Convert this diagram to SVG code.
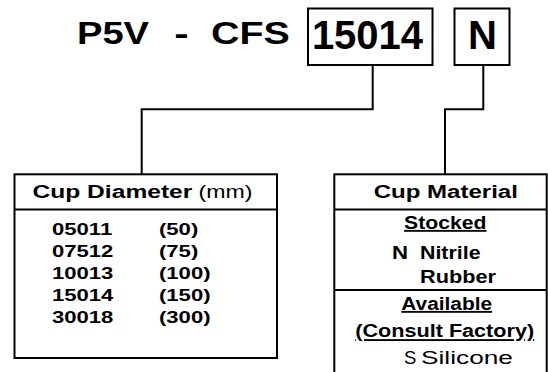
<svg xmlns="http://www.w3.org/2000/svg" width="548" height="372" viewBox="0 0 548 372">
<style>
text{font-family:"Liberation Sans",Arial,Helvetica,sans-serif;fill:#000}
.b{font-weight:bold}
.t{font-size:31px;font-weight:bold}
.k{font-size:40px;font-weight:bold}
.h{font-size:18.5px}
.r{font-size:17px;font-weight:bold}
.m{text-anchor:middle}
.u{text-decoration:underline}
.box{fill:#fff;stroke:#000;stroke-width:2}
.ln{fill:none;stroke:#000;stroke-width:2}
</style>
<rect width="548" height="372" fill="#fff"/>
<g id="title">
<text class="t" transform="translate(77 44) scale(1.23 1)">P5V</text>
<text class="t m" transform="translate(181.5 44) scale(1.4 1)">-</text>
<text class="t" transform="translate(211 44) scale(1.27 1)">CFS</text>
</g>
<g id="box-15014">
<rect class="box" x="308" y="8.5" width="124.5" height="56.5"/>
<text class="k m" x="367.5" y="49">15014</text>
</g>
<g id="box-N">
<rect class="box" x="454.5" y="8.5" width="55" height="56.5"/>
<text class="k m" x="482.5" y="48.5">N</text>
</g>
<g id="connectors">
<polyline class="ln" points="372.7,65 372.7,109.3 141.7,109.3 141.7,174.3"/>
<polyline class="ln" points="483.3,65 483.3,109.3 445,109.3 445,174.3"/>
</g>
<g id="table-diameter">
<rect class="box" x="14.5" y="174.3" width="262.5" height="183.7"/>
<line class="ln" x1="14.5" y1="209.5" x2="277" y2="209.5"/>
<text class="h b" transform="translate(32.5 198) scale(1.33 1)">Cup Diameter</text>
<text class="h" transform="translate(198.5 198) scale(1.25 1)">(mm)</text>
<g transform="scale(1.3 1)">
<text class="r" x="40" y="235.5">05011</text>
<text class="r" x="122.3" y="235.5">(50)</text>
<text class="r" x="40" y="257.5">07512</text>
<text class="r" x="122.3" y="257.5">(75)</text>
<text class="r" x="40" y="279.5">10013</text>
<text class="r" x="122.3" y="279.5">(100)</text>
<text class="r" x="40" y="301.5">15014</text>
<text class="r" x="122.3" y="301.5">(150)</text>
<text class="r" x="40" y="323.5">30018</text>
<text class="r" x="122.3" y="323.5">(300)</text>
</g>
</g>
<g id="table-material">
<rect class="box" x="334.3" y="174.3" width="212.4" height="210"/>
<line class="ln" x1="334.3" y1="209.5" x2="546.7" y2="209.5"/>
<line class="ln" x1="334.3" y1="290" x2="546.7" y2="290"/>
<text class="h b m" transform="translate(445.8 198) scale(1.3 1)">Cup Material</text>
<text class="h b m u" transform="translate(445.3 229) scale(1.146 1)">Stocked</text>
<text class="h b" transform="translate(392 259.3) scale(1.2 1)">N</text>
<text class="h b" transform="translate(420 259.3) scale(1.155 1)">Nitrile</text>
<text class="h b" transform="translate(420 282.7) scale(1.174 1)">Rubber</text>
<text class="h b m u" transform="translate(446.7 310) scale(1.127 1)">Available</text>
<text class="h b m u" transform="translate(444.7 337.3) scale(1.169 1)">(Consult Factory)</text>
<text class="h" transform="translate(404 364)">S</text>
<text class="h" transform="translate(421 364) scale(1.42 1)">Silicone</text>
</g>
</svg>
